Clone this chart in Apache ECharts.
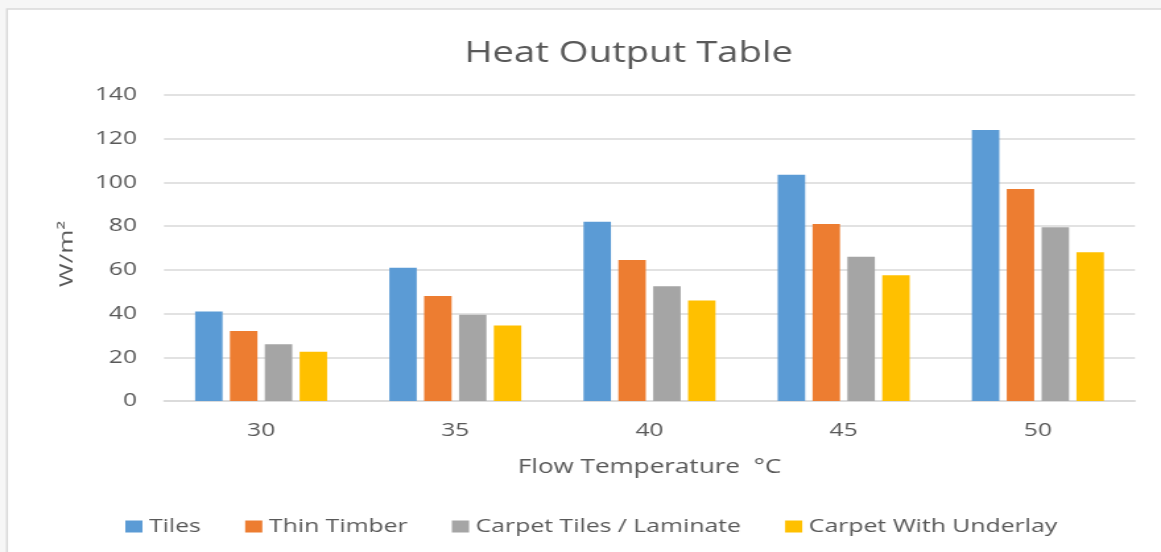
<!DOCTYPE html>
<html>
<head>
<meta charset="utf-8">
<title>Heat Output Table</title>
<script src="https://cdn.jsdelivr.net/npm/echarts@6/dist/echarts.min.js"></script>
<style>
  html, body { margin: 0; padding: 0; background: #f6f6f6; overflow: hidden; }
  /* The chart is laid out on a narrower canvas and widened to fill the window */
  #chart { width: 880px; height: 552px; transform: scaleX(1.3193); transform-origin: 0 0; }
</style>
</head>
<body>
<div id="chart"></div>
<script>
// Flow temperatures (°C) along the x axis
const categories = ['30', '35', '40', '45', '50'];

// Heat output (W/m²) per floor finish
const tiles = [41, 61, 82, 103.5, 124];
const thinTimber = [32, 48, 64.5, 81, 97];
const carpetTilesLaminate = [26, 39.5, 52.5, 66, 79.5];
const carpetWithUnderlay = [22.5, 34.5, 46, 57.5, 68];

const seriesNames = ['Tiles', 'Thin Timber', 'Carpet Tiles / Laminate', 'Carpet With Underlay'];
const seriesData = [tiles, thinTimber, carpetTilesLaminate, carpetWithUnderlay];
const colors = ['#5b9bd5', '#ed7d31', '#a5a5a5', '#ffc000'];

const FONT = '"Open Sans", "Liberation Sans", sans-serif';
const TEXT = '#595959';
const GRID = '#d9d9d9';

const chart = echarts.init(document.getElementById('chart'), null, { renderer: 'canvas' });

chart.setOption({
  animation: false,
  backgroundColor: 'transparent',
  color: colors,
  textStyle: { fontFamily: FONT, color: TEXT },
  title: {
    text: 'Heat Output Table',
    left: 471.5,
    top: 34,
    textAlign: 'center',
    textStyle: { fontFamily: FONT, fontSize: 29, fontWeight: 'normal', color: TEXT }
  },
  graphic: [
    {
      type: 'rect',
      z: -10,
      silent: true,
      shape: { x: 5.3, y: 9, width: 900, height: 600 },
      style: { fill: '#ffffff', stroke: GRID, lineWidth: 1.5 }
    },
    {
      type: 'text',
      x: 50.8,
      y: 254,
      rotation: Math.PI / 2,
      scaleY: 0.54,
      silent: true,
      style: {
        text: 'W/m²',
        fontFamily: FONT,
        fontSize: 26,
        fill: TEXT,
        textAlign: 'center',
        textVerticalAlign: 'middle'
      }
    }
  ],
  legend: {
    data: seriesNames,
    left: 90,
    top: 512,
    itemWidth: 13,
    itemHeight: 12,
    itemGap: 33.5,
    icon: 'rect',
    textStyle: { fontFamily: FONT, fontSize: 18.8, color: TEXT, padding: [0, 0, 0, 0] }
  },
  grid: { left: 124.3, right: 19.7, top: 95, bottom: 151, containLabel: false },
  xAxis: {
    type: 'category',
    data: categories,
    name: 'Flow Temperature  °C',
    nameLocation: 'middle',
    nameGap: 56,
    nameTextStyle: { fontFamily: FONT, fontSize: 19.8, color: TEXT },
    axisLine: { show: true, lineStyle: { color: GRID, width: 1.5 } },
    axisTick: { show: false },
    axisLabel: { margin: 20, fontFamily: FONT, fontSize: 18.6, color: TEXT }
  },
  yAxis: {
    type: 'value',
    min: 0,
    max: 140,
    interval: 20,
    axisLine: { show: false },
    axisTick: { show: false },
    axisLabel: { margin: 20.5, fontFamily: FONT, fontSize: 18.6, color: TEXT },
    splitLine: { lineStyle: { color: GRID, width: 1.5 } }
  },
  series: seriesNames.map((name, i) => ({
    name: name,
    type: 'bar',
    data: seriesData[i],
    barWidth: 20.8,
    barGap: '27%',
    itemStyle: { color: colors[i] }
  }))
});
</script>
</body>
</html>
